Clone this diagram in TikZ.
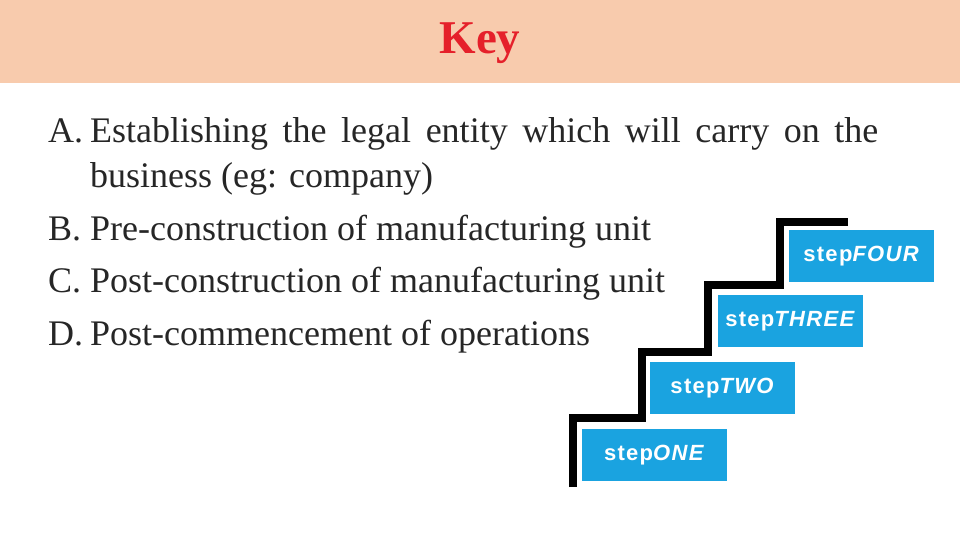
\documentclass[tikz,border=0pt]{standalone}
\usepackage{fontspec}
\setmainfont{Liberation Serif}
\newfontfamily\stepfont[LetterSpace=6]{Liberation Sans}
\definecolor{hdr}{HTML}{F8CBAD}
\definecolor{keyred}{HTML}{E5202A}
\definecolor{stepblue}{HTML}{1AA3E0}
\begin{document}
\begin{tikzpicture}[x=1pt,y=-1pt,
  stepbox/.style={fill=stepblue,minimum width=145pt,minimum height=52pt,inner sep=0pt,
    font=\stepfont\bfseries\fontsize{22}{26}\selectfont,text=white},
  item/.style={anchor=base west,inner sep=0pt,font=\fontsize{36}{44}\selectfont,text=black!85}]
\useasboundingbox (0,0) rectangle (960,540);
\fill[hdr] (0,0) rectangle (960,83);
\node[font=\bfseries\fontsize{47}{50}\selectfont,text=keyred] (key) at (480,43) {Key};
\node[item] (la) at (48,143) {A.};
\node[item] (ta) at (90,143) {\makebox[788pt][s]{Establishing the legal entity which will carry on the}};
\node[item] (ta2) at (90,187) {business (eg: company)};
\node[item] (lb) at (48,240) {B.};
\node[item] (tb) at (90,240) {Pre-construction of manufacturing unit};
\node[item] (lc) at (48,292) {C.};
\node[item] (tc) at (90,292) {Post-construction of manufacturing unit};
\node[item] (ld) at (48,345) {D.};
\node[item] (td) at (90,345) {Post-commencement of operations};
\draw[line width=8pt,line join=miter] (573,487) |- (642,418) |- (708,352) |- (780,285) |- (848,222);
\node[stepbox,anchor=north west] (s1) at (582,429) {step\textit{ONE}};
\node[stepbox,anchor=north west] (s2) at (650,362) {step\textit{TWO}};
\node[stepbox,anchor=north west] (s3) at (718,295) {step\textit{THREE}};
\node[stepbox,anchor=north west] (s4) at (789,230) {step\textit{FOUR}};
\end{tikzpicture}
\end{document}
